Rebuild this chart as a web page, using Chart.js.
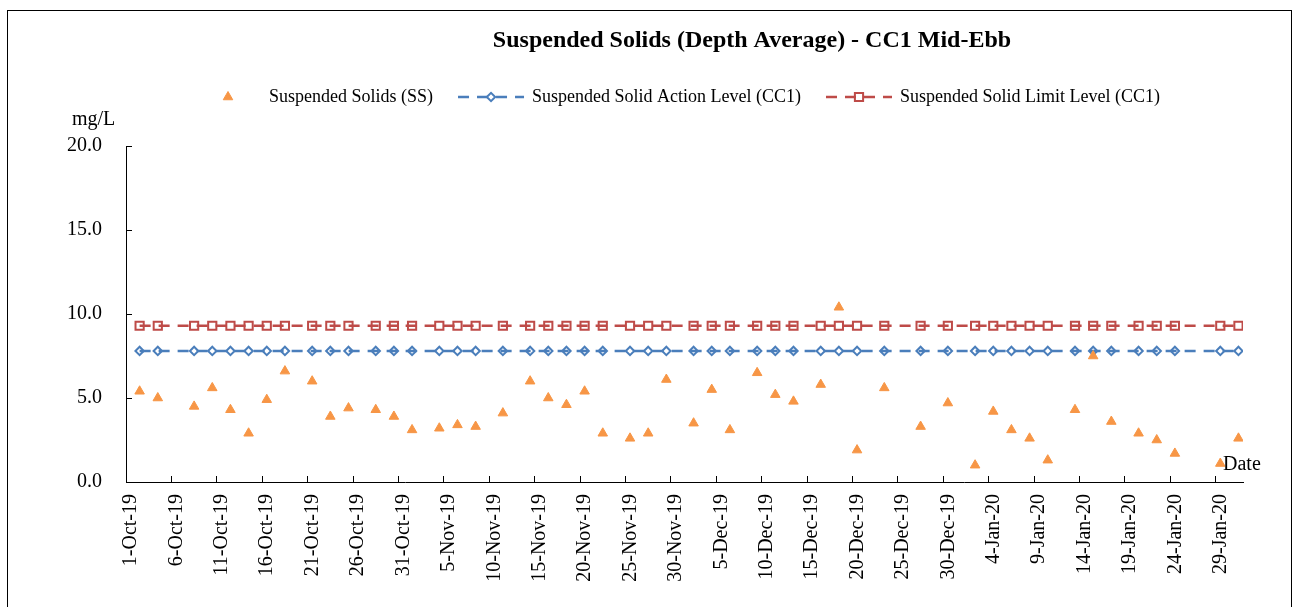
<!DOCTYPE html>
<html>
<head>
<meta charset="utf-8">
<title>Suspended Solids (Depth Average) - CC1 Mid-Ebb</title>
<script src="https://cdn.jsdelivr.net/npm/chart.js@4.4.1/dist/chart.umd.min.js"></script>
<style>
  html, body { margin: 0; padding: 0; background: #fff; }
  #wrap { position: relative; width: 1300px; height: 607px; overflow: hidden; }
  #frame { position: absolute; left: 7px; top: 10px; width: 1285px; height: 640px; border: 1px solid #000; box-sizing: border-box; pointer-events: none; }
  canvas { display: block; }
</style>
</head>
<body>
<div id="wrap">
  <canvas id="chart" width="1300" height="607"></canvas>
  <div id="frame"></div>
</div>
<script>
const chartTitle = 'Suspended Solids (Depth Average) - CC1 Mid-Ebb';
const yUnit = 'mg/L';
const xUnit = 'Date';

const sampleDates = [
  '2019-10-02', '2019-10-04', '2019-10-08', '2019-10-10', '2019-10-12', '2019-10-14', '2019-10-16',
  '2019-10-18', '2019-10-21', '2019-10-23', '2019-10-25', '2019-10-28', '2019-10-30',
  '2019-11-01', '2019-11-04', '2019-11-06', '2019-11-08', '2019-11-11', '2019-11-14', '2019-11-16',
  '2019-11-18', '2019-11-20', '2019-11-22', '2019-11-25', '2019-11-27', '2019-11-29',
  '2019-12-02', '2019-12-04', '2019-12-06', '2019-12-09', '2019-12-11', '2019-12-13',
  '2019-12-16', '2019-12-18', '2019-12-20', '2019-12-23', '2019-12-27', '2019-12-30',
  '2020-01-02', '2020-01-04', '2020-01-06', '2020-01-08', '2020-01-10', '2020-01-13', '2020-01-15',
  '2020-01-17', '2020-01-20', '2020-01-22', '2020-01-24', '2020-01-29', '2020-01-31',
];

const ssValues = [
  5.4, 5.0, 4.5, 5.6, 4.3, 2.9, 4.9, 6.6, 6.0, 3.9, 4.4, 4.3, 3.9,
  3.1, 3.2, 3.4, 3.3, 4.1, 6.0, 5.0, 4.6, 5.4, 2.9, 2.6, 2.9, 6.1,
  3.5, 5.5, 3.1, 6.5, 5.2, 4.8, 5.8, 10.4, 1.9, 5.6, 3.3, 4.7,
  1.0, 4.2, 3.1, 2.6, 1.3, 4.3, 7.5, 3.6, 2.9, 2.5, 1.7, 1.1, 2.6,
];

const actionLevel = [
  7.8, 7.8, 7.8, 7.8, 7.8, 7.8, 7.8, 7.8, 7.8, 7.8, 7.8, 7.8, 7.8,
  7.8, 7.8, 7.8, 7.8, 7.8, 7.8, 7.8, 7.8, 7.8, 7.8, 7.8, 7.8, 7.8,
  7.8, 7.8, 7.8, 7.8, 7.8, 7.8, 7.8, 7.8, 7.8, 7.8, 7.8, 7.8,
  7.8, 7.8, 7.8, 7.8, 7.8, 7.8, 7.8, 7.8, 7.8, 7.8, 7.8, 7.8, 7.8,
];

const limitLevel = [
  9.3, 9.3, 9.3, 9.3, 9.3, 9.3, 9.3, 9.3, 9.3, 9.3, 9.3, 9.3, 9.3,
  9.3, 9.3, 9.3, 9.3, 9.3, 9.3, 9.3, 9.3, 9.3, 9.3, 9.3, 9.3, 9.3,
  9.3, 9.3, 9.3, 9.3, 9.3, 9.3, 9.3, 9.3, 9.3, 9.3, 9.3, 9.3,
  9.3, 9.3, 9.3, 9.3, 9.3, 9.3, 9.3, 9.3, 9.3, 9.3, 9.3, 9.3, 9.3,
];

const tickLabels = [
  '1-Oct-19', '6-Oct-19', '11-Oct-19', '16-Oct-19', '21-Oct-19', '26-Oct-19', '31-Oct-19',
  '5-Nov-19', '10-Nov-19', '15-Nov-19', '20-Nov-19', '25-Nov-19', '30-Nov-19',
  '5-Dec-19', '10-Dec-19', '15-Dec-19', '20-Dec-19', '25-Dec-19', '30-Dec-19',
  '4-Jan-20', '9-Jan-20', '14-Jan-20', '19-Jan-20', '24-Jan-20', '29-Jan-20',
];

const seriesNames = [
  'Suspended Solids (SS)',
  'Suspended Solid Action Level (CC1)',
  'Suspended Solid Limit Level (CC1)',
];

const FONT = "'Times New Roman', 'Liberation Serif', serif";
const colors = { ss: '#F79646', action: '#4A7EBB', limit: '#BE4B48' };
const lineDash = [11, 8];

const startDay = Date.UTC(2019, 9, 1);
const tickStep = 5;
const axisDays = 123;

function dayPos(iso) {
  const [y, m, d] = iso.split('-').map(Number);
  return (Date.UTC(y, m - 1, d) - startDay) / 86400000 + 0.5;
}

function points(values) {
  return values.map((v, i) => ({ x: dayPos(sampleDates[i]), y: v }));
}

function drawMarker(ctx, ds, x, y) {
  const r = ds.pointRadius;
  ctx.save();
  ctx.strokeStyle = ds.pointBorderColor;
  ctx.fillStyle = ds.pointBackgroundColor;
  ctx.lineWidth = ds.pointBorderWidth;
  ctx.beginPath();
  if (ds.pointStyle === 'triangle') {
    ctx.moveTo(x, y - r);
    ctx.lineTo(x + r * Math.sqrt(3) / 2, y + r / 2);
    ctx.lineTo(x - r * Math.sqrt(3) / 2, y + r / 2);
  } else if (ds.pointStyle === 'rectRot') {
    ctx.moveTo(x - r, y);
    ctx.lineTo(x, y - r);
    ctx.lineTo(x + r, y);
    ctx.lineTo(x, y + r);
  } else {
    const h = r * Math.SQRT1_2;
    ctx.rect(x - h, y - h, h * 2, h * 2);
  }
  ctx.closePath();
  ctx.fill();
  ctx.stroke();
  ctx.restore();
}

const decorPlugin = {
  id: 'decor',
  afterDraw(chart) {
    const ctx = chart.ctx;
    ctx.save();
    ctx.fillStyle = '#000';
    ctx.textBaseline = 'middle';

    ctx.font = `bold 24px ${FONT}`;
    ctx.textAlign = 'center';
    ctx.fillText(chartTitle, 752, 41);

    ctx.font = `18px ${FONT}`;
    ctx.textAlign = 'left';
    let cursor = 195;
    const legendY = 97;
    chart.data.datasets.forEach((ds) => {
      if (ds.showLine !== false) {
        ctx.save();
        ctx.strokeStyle = ds.borderColor;
        ctx.lineWidth = ds.borderWidth;
        ctx.setLineDash(lineDash);
        ctx.beginPath();
        ctx.moveTo(cursor, legendY);
        ctx.lineTo(cursor + 66, legendY);
        ctx.stroke();
        ctx.restore();
      }
      drawMarker(ctx, ds, cursor + 33, legendY);
      ctx.fillStyle = '#000';
      ctx.fillText(ds.label, cursor + 74, legendY);
      cursor += 74 + ctx.measureText(ds.label).width + 25;
    });

    ctx.font = `20px ${FONT}`;
    ctx.fillText(yUnit, 72, 120);
    ctx.fillText(xUnit, 1223, 465);
    ctx.restore();
  },
};

Chart.defaults.font.family = FONT;
Chart.defaults.color = '#000';

new Chart(document.getElementById('chart'), {
  type: 'line',
  data: {
    datasets: [
      {
        label: seriesNames[0],
        data: points(ssValues),
        showLine: false,
        pointStyle: 'triangle',
        pointRadius: 5.5,
        pointBorderWidth: 1,
        pointBackgroundColor: colors.ss,
        pointBorderColor: colors.ss,
        borderColor: colors.ss,
      },
      {
        label: seriesNames[1],
        data: points(actionLevel),
        borderColor: colors.action,
        borderWidth: 2.5,
        borderDash: lineDash,
        tension: 0,
        fill: false,
        pointStyle: 'rectRot',
        pointRadius: 4.2,
        pointBorderWidth: 2,
        pointBackgroundColor: 'rgba(255,255,255,0)',
        pointBorderColor: colors.action,
      },
      {
        label: seriesNames[2],
        data: points(limitLevel),
        borderColor: colors.limit,
        borderWidth: 2.5,
        borderDash: lineDash,
        tension: 0,
        fill: false,
        pointStyle: 'rect',
        pointRadius: 5.8,
        pointBorderWidth: 2,
        pointBackgroundColor: 'rgba(255,255,255,0)',
        pointBorderColor: colors.limit,
      },
    ],
  },
  options: {
    responsive: false,
    animation: false,
    devicePixelRatio: 1,
    layout: { padding: { top: 146, right: 57, bottom: 0, left: 0 } },
    plugins: {
      legend: { display: false },
      title: { display: false },
      tooltip: { enabled: false },
    },
    scales: {
      x: {
        type: 'linear',
        min: 0,
        max: axisDays,
        afterBuildTicks: (scale) => {
          scale.ticks = tickLabels.map((_, i) => ({ value: i * tickStep }));
        },
        afterFit: (scale) => {
          scale.height = 125;
        },
        ticks: {
          autoSkip: false,
          minRotation: 90,
          maxRotation: 90,
          padding: 18,
          labelOffset: 5,
          font: { size: 20 },
          callback: (value) => tickLabels[Math.round(value / tickStep)],
        },
        grid: { drawOnChartArea: false, tickLength: -6, color: '#000', lineWidth: 1 },
        border: { display: true, color: '#000', width: 1 },
      },
      y: {
        min: 0,
        max: 20,
        afterFit: (scale) => {
          scale.width = 126;
        },
        ticks: {
          stepSize: 5,
          padding: 30,
          font: { size: 20 },
          callback: (value) => value.toFixed(1),
        },
        grid: { drawOnChartArea: false, tickLength: -6, color: '#000', lineWidth: 1 },
        border: { display: true, color: '#000', width: 1 },
      },
    },
  },
  plugins: [decorPlugin],
});
</script>
</body>
</html>
